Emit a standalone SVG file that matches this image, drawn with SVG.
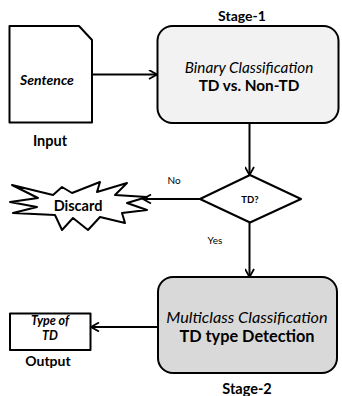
<svg xmlns="http://www.w3.org/2000/svg" width="342" height="396" viewBox="0 0 342 396">
<style>
text{font-family:Lato,"Open Sans","Liberation Sans",sans-serif;fill:#000;text-anchor:middle;dominant-baseline:central}
.b{font-weight:bold}
.i{font-style:italic}
.shape{stroke:#000;stroke-width:2;stroke-linejoin:round}
.conn{stroke:#000;stroke-width:2;fill:none}
</style>
<defs>
<marker id="arr" viewBox="0 0 10 10" refX="9" refY="5" markerWidth="10" markerHeight="10" markerUnits="userSpaceOnUse" orient="auto">
<path d="M1,0.5 L9,5 L1,9.5" fill="none" stroke="#000" stroke-width="1.8"/>
</marker>
</defs>
<rect width="342" height="396" fill="#fff"/>
<g id="input">
<path class="shape" d="M9.5,26 H79 L92,40 V122.5 H9.5 Z" fill="#fff"/>
<text x="47" y="79" class="b i" font-size="14">Sentence</text>
<text x="50" y="140" class="b" font-size="14.5">Input</text>
</g>
<g id="stage1">
<rect class="shape" x="157.5" y="26" width="181" height="97" rx="15" fill="#f2f2f2"/>
<text x="242" y="15" class="b" font-size="14">Stage-1</text>
<text x="249" y="66.5" class="i" font-size="15.3">Binary Classification</text>
<text x="249" y="85" class="b" font-size="15.3">TD vs. Non-TD</text>
</g>
<g id="decision">
<path class="shape" d="M200,199 L250,175 L301,199 L250,222.5 Z" fill="#fff"/>
<text x="250" y="199" class="b" font-size="9.5">TD?</text>
</g>
<g id="discard">
<path class="shape" stroke-width="1.3" fill="#fff" d="M12,185 L53,195 L62,187 L72,193 L100,182 L97,192 L127,183 L115,195 L147,197 L127,203 L147,210 L122,213 L125,223 L100,217 L88,230 L73,218 L62,230 L55,215 L13,213 L37,207 L10,202 L38,198 Z"/>
<text x="78" y="205" class="b" font-size="14.5">Discard</text>
</g>
<g id="stage2">
<rect class="shape" x="158" y="277" width="179" height="96" rx="15" fill="#d9d9d9"/>
<text x="247" y="316.5" class="i" font-size="16.3">Multiclass Classification</text>
<text x="247" y="335" class="b" font-size="16.3">TD type Detection</text>
<text x="247" y="388" class="b" font-size="14.5">Stage-2</text>
</g>
<g id="output">
<rect class="shape" x="10" y="313.5" width="80.5" height="36.5" fill="#fff"/>
<text x="50" y="320" class="b i" font-size="12.5">Type of</text>
<text x="50" y="335.5" class="b i" font-size="12.5">TD</text>
<text x="48" y="360" class="b" font-size="14">Output</text>
</g>
<g id="connectors">
<line class="conn" x1="92" y1="74.5" x2="157" y2="74.5" marker-end="url(#arr)"/>
<line class="conn" x1="249.5" y1="123" x2="249.5" y2="175" marker-end="url(#arr)"/>
<line class="conn" x1="200" y1="199" x2="143" y2="199" marker-end="url(#arr)"/>
<line class="conn" x1="249.5" y1="222.5" x2="249.5" y2="277" marker-end="url(#arr)"/>
<line class="conn" x1="158" y1="327" x2="91" y2="327" marker-end="url(#arr)"/>
<text x="174" y="180" font-size="10">No</text>
<text x="215" y="240" font-size="10">Yes</text>
</g>
</svg>
